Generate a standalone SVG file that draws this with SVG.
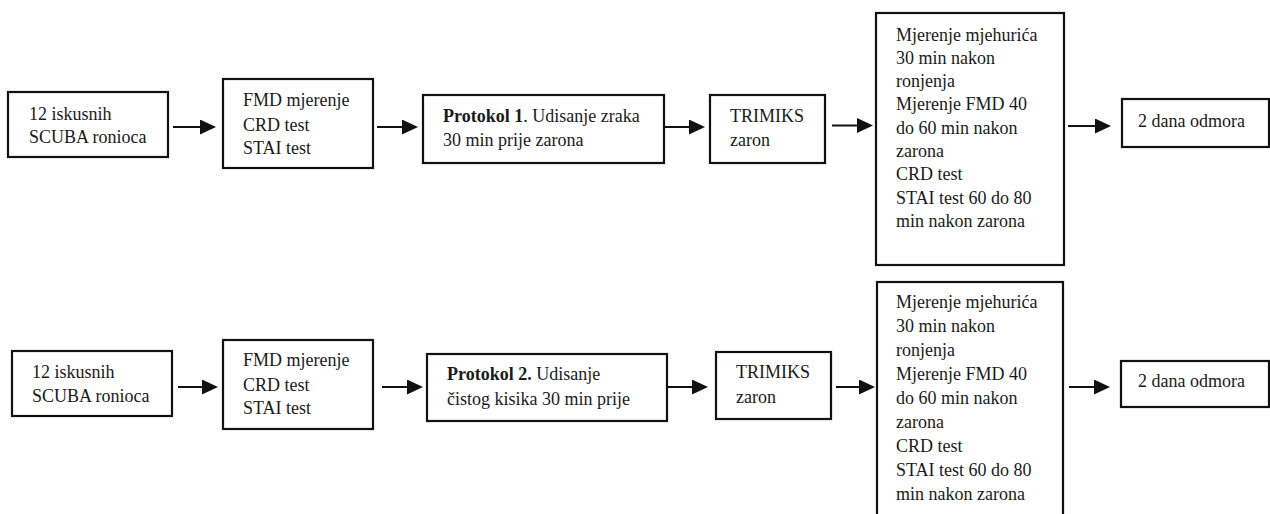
<svg xmlns="http://www.w3.org/2000/svg" width="1270" height="514" viewBox="0 0 1270 514">
<defs>
<marker id="ah" markerUnits="userSpaceOnUse" markerWidth="17" markerHeight="16" refX="10" refY="7.5" orient="auto">
<path d="M0,0 L16,7.5 L0,15 z" fill="#111"/>
</marker>
<style>
.box{fill:#fff;stroke:#111;stroke-width:2.2}
.t{font-family:"Liberation Serif","Times New Roman","DejaVu Serif",serif;font-size:18px;fill:#1a1a1a}
.b{font-weight:bold}
.c{stroke:#111;stroke-width:2.2;fill:none;marker-end:url(#ah)}
</style>
</defs>
<rect width="1270" height="514" fill="#fff"/>

<g id="r1n1"><rect class="box" x="8" y="92" width="160" height="65"/>
<text class="t" x="29" y="120">12 iskusnih</text><text class="t" x="29" y="143">SCUBA ronioca</text></g>
<g id="r1n2"><rect class="box" x="223" y="79" width="150" height="89"/>
<text class="t" x="243" y="106">FMD mjerenje</text><text class="t" x="243" y="130.5">CRD test</text><text class="t" x="243" y="154">STAI test</text></g>
<g id="r1n3"><rect class="box" x="423" y="95" width="241" height="68"/>
<text class="t" x="443" y="122"><tspan class="b">Protokol 1</tspan>. Udisanje zraka</text><text class="t" x="443" y="146">30 min prije zarona</text></g>
<g id="r1n4"><rect class="box" x="710" y="95" width="115" height="68"/>
<text class="t" x="730" y="122">TRIMIKS</text><text class="t" x="730" y="146">zaron</text></g>
<g id="r1n5"><rect class="box" x="876" y="13" width="188" height="252"/>
<text class="t" x="896" y="40.5">Mjerenje mjehurića</text>
<text class="t" x="896" y="63.8">30 min nakon</text>
<text class="t" x="896" y="87.1">ronjenja</text>
<text class="t" x="896" y="110.4">Mjerenje FMD 40</text>
<text class="t" x="896" y="133.7">do 60 min nakon</text>
<text class="t" x="896" y="157">zarona</text>
<text class="t" x="896" y="180.3">CRD test</text>
<text class="t" x="896" y="203.6">STAI test 60 do 80</text>
<text class="t" x="896" y="226.9">min nakon zarona</text></g>
<g id="r1n6"><rect class="box" x="1122" y="99" width="147" height="48"/>
<text class="t" x="1138" y="127">2 dana odmora</text></g>

<g id="r2n1"><rect class="box" x="12" y="351" width="160" height="65"/>
<text class="t" x="32" y="378">12 iskusnih</text><text class="t" x="32" y="402">SCUBA ronioca</text></g>
<g id="r2n2"><rect class="box" x="223" y="340" width="150" height="89"/>
<text class="t" x="243" y="366">FMD mjerenje</text><text class="t" x="243" y="391">CRD test</text><text class="t" x="243" y="414">STAI test</text></g>
<g id="r2n3"><rect class="box" x="427" y="354" width="240" height="67"/>
<text class="t" x="447" y="380"><tspan class="b">Protokol 2.</tspan> Udisanje</text><text class="t" x="447" y="405">čistog kisika 30 min prije</text></g>
<g id="r2n4"><rect class="box" x="716" y="352" width="115" height="67"/>
<text class="t" x="736" y="378">TRIMIKS</text><text class="t" x="736" y="403">zaron</text></g>
<g id="r2n5"><rect class="box" x="877" y="282" width="186" height="240"/>
<text class="t" x="896" y="308">Mjerenje mjehurića</text>
<text class="t" x="896" y="332">30 min nakon</text>
<text class="t" x="896" y="356">ronjenja</text>
<text class="t" x="896" y="380">Mjerenje FMD 40</text>
<text class="t" x="896" y="404">do 60 min nakon</text>
<text class="t" x="896" y="428">zarona</text>
<text class="t" x="896" y="452">CRD test</text>
<text class="t" x="896" y="476">STAI test 60 do 80</text>
<text class="t" x="896" y="500">min nakon zarona</text></g>
<g id="r2n6"><rect class="box" x="1121" y="361" width="148" height="46"/>
<text class="t" x="1138" y="387">2 dana odmora</text></g>

<g id="connectors">
<line class="c" x1="173" y1="127" x2="210" y2="127"/>
<line class="c" x1="377" y1="127" x2="412" y2="127"/>
<line class="c" x1="664" y1="127" x2="699" y2="127"/>
<line class="c" x1="832" y1="125.5" x2="867" y2="125.5"/>
<line class="c" x1="1068" y1="126" x2="1105" y2="126"/>
<line class="c" x1="178" y1="387" x2="212" y2="387"/>
<line class="c" x1="382" y1="387" x2="417" y2="387"/>
<line class="c" x1="667" y1="387" x2="702" y2="387"/>
<line class="c" x1="836" y1="387" x2="869" y2="387"/>
<line class="c" x1="1069" y1="387" x2="1104" y2="387"/>
</g>
</svg>
